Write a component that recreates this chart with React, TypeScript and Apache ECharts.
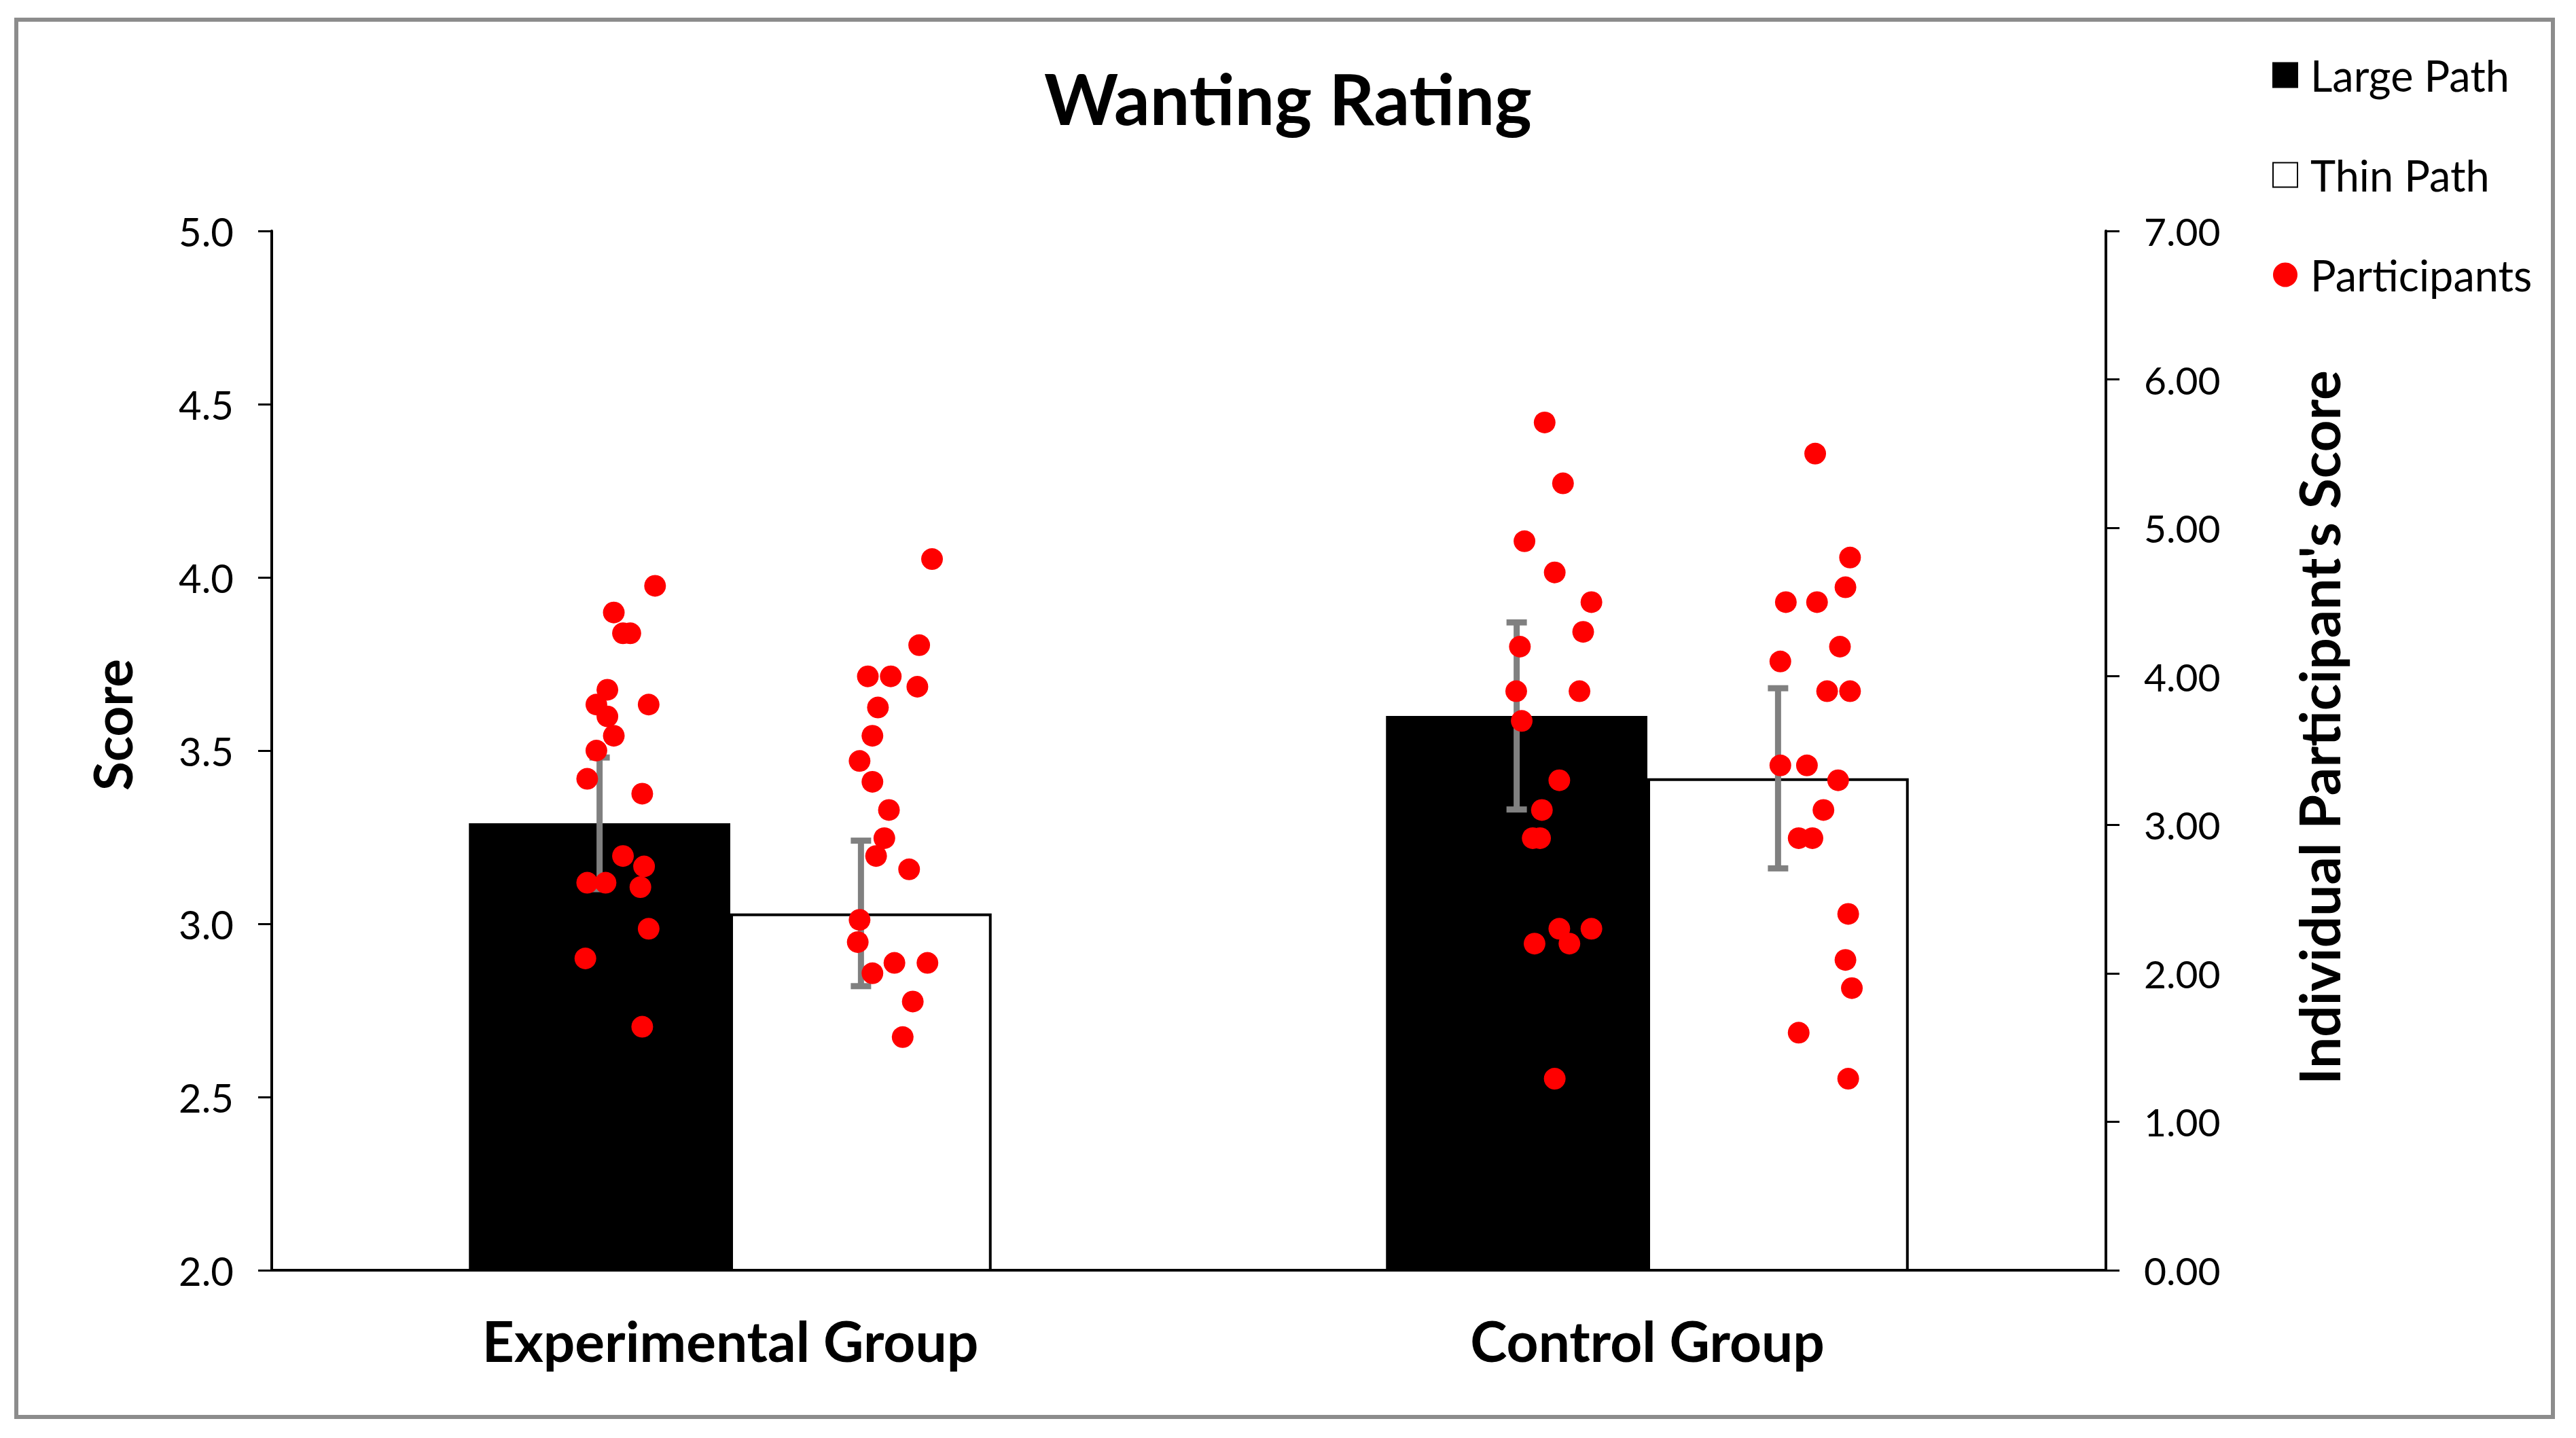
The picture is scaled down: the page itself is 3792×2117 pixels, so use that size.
import React, { useEffect, useRef } from "react";
import * as echarts from "echarts";

const categories = ["Experimental Group", "Control Group"];
const largeMeans = [3.29, 3.6];
const thinMeans = [3.03, 3.42];
const largeErr = [0.19, 0.27];
const thinErr = [0.21, 0.26];
const leftTicks = { min: 2, max: 5, interval: 0.5 };
const rightTicks = { min: 0, max: 7, interval: 1 };

const expLargeScores = [4.61, 4.43, 4.29, 4.29, 3.91, 3.81, 3.81, 3.73, 3.6, 3.5, 3.31, 3.21, 2.79, 2.72, 2.61, 2.61, 2.58, 2.3, 2.1, 1.64];
const expLargeJitter = [-0.082, -0.127, -0.117, -0.109, -0.134, -0.146, -0.089, -0.134, -0.127, -0.146, -0.156, -0.096, -0.117, -0.094, -0.156, -0.136, -0.098, -0.089, -0.158, -0.096];
const expThinScores = [4.79, 4.21, 4.0, 4.0, 3.93, 3.79, 3.6, 3.43, 3.29, 3.1, 2.91, 2.79, 2.7, 2.36, 2.21, 2.07, 2.07, 2.0, 1.81, 1.57];
const expThinJitter = [0.22, 0.206, 0.15, 0.175, 0.204, 0.161, 0.155, 0.141, 0.155, 0.173, 0.168, 0.159, 0.195, 0.141, 0.139, 0.179, 0.215, 0.155, 0.199, 0.188];
const ctlLargeScores = [5.71, 5.3, 4.91, 4.7, 4.5, 4.3, 4.2, 3.9, 3.9, 3.7, 3.3, 3.1, 2.91, 2.91, 2.3, 2.3, 2.2, 2.2, 1.29];
const ctlLargeJitter = [-0.112, -0.092, -0.134, -0.101, -0.061, -0.07, -0.139, -0.143, -0.074, -0.137, -0.096, -0.115, -0.125, -0.117, -0.096, -0.061, -0.123, -0.085, -0.101];
const ctlThinScores = [5.5, 4.8, 4.6, 4.5, 4.5, 4.2, 4.1, 3.9, 3.9, 3.4, 3.4, 3.3, 3.1, 2.91, 2.91, 2.4, 2.09, 1.9, 1.6, 1.29];
const ctlThinJitter = [0.183, 0.221, 0.216, 0.151, 0.185, 0.21, 0.145, 0.196, 0.221, 0.145, 0.174, 0.208, 0.192, 0.165, 0.18, 0.219, 0.216, 0.223, 0.165, 0.219];

const FONT = "Lato, 'Open Sans', sans-serif";

function buildPoints(catIndex: number, scores: number[], jitter: number[]) {
  return scores.map((s, i) => [catIndex + jitter[i], s]);
}

export default function App() {
  const ref = useRef<HTMLDivElement>(null);
  useEffect(() => {
    document.body.style.margin = "0";
    if (!ref.current) return;
    const chart = echarts.init(ref.current, null, { renderer: "svg" });

    const participants = [
      ...buildPoints(0, expLargeScores, expLargeJitter),
      ...buildPoints(0, expThinScores, expThinJitter),
      ...buildPoints(1, ctlLargeScores, ctlLargeJitter),
      ...buildPoints(1, ctlThinScores, ctlThinJitter),
    ];

    const errData: number[][] = [];
    categories.forEach((_, i) => {
      errData.push([i, largeMeans[i], largeMeans[i] - largeErr[i], largeMeans[i] + largeErr[i], 0]);
      errData.push([i, thinMeans[i], thinMeans[i] - thinErr[i], thinMeans[i] + thinErr[i], 1]);
    });

    const option: any = {
      animation: false,
      backgroundColor: "#ffffff",
      title: {
        text: "Wanting Rating",
        left: "center",
        top: 86,
        textStyle: { fontFamily: FONT, fontWeight: "bold", fontSize: 104, color: "#000" },
      },
      legend: {
        orient: "vertical",
        left: 3340,
        top: 74,
        itemWidth: 36,
        itemHeight: 36,
        itemGap: 84,
        textStyle: { fontFamily: FONT, fontSize: 63, color: "#000", lineHeight: 36, padding: [0, 0, 0, 14] },
        data: [
          { name: "Large Path", icon: "rect" },
          { name: "Thin Path", icon: "rect" },
          { name: "Participants", icon: "circle" },
        ],
      },
      graphic: [
        {
          type: "rect",
          shape: { x: 24, y: 29, width: 3734, height: 2057 },
          style: { fill: "none", stroke: "#8c8c8c", lineWidth: 6 },
          silent: true,
        },
      ],
      grid: { left: 400, right: 692, top: 340, bottom: 247 },
      xAxis: [
        {
          type: "category",
          data: categories,
          axisLine: { onZero: false, lineStyle: { color: "#000", width: 4 } },
          axisTick: { show: false },
          axisLabel: { fontFamily: FONT, fontWeight: "bold", fontSize: 82, color: "#000", margin: 62 },
        },
        { type: "value", min: -0.5, max: 1.5, show: false, axisLine: { onZero: false } },
      ],
      yAxis: [
        {
          type: "value",
          position: "left",
          min: leftTicks.min,
          max: leftTicks.max,
          interval: leftTicks.interval,
          name: "Score",
          nameLocation: "middle",
          nameGap: 196,
          nameRotate: 90,
          nameTextStyle: { fontFamily: FONT, fontWeight: "bold", fontSize: 78, color: "#000", padding: [0, 0, 0, 76] },
          axisLine: { show: true, onZero: false, lineStyle: { color: "#000", width: 4 } },
          axisTick: { show: true, length: 20, lineStyle: { color: "#000", width: 3 } },
          splitLine: { show: false },
          axisLabel: { fontFamily: FONT, fontSize: 58, color: "#000", margin: 56, formatter: (v: number) => v.toFixed(1) },
        },
        {
          type: "value",
          position: "right",
          min: rightTicks.min,
          max: rightTicks.max,
          interval: rightTicks.interval,
          name: "Individual Participant's Score",
          nameLocation: "middle",
          nameGap: 272,
          nameRotate: 90,
          nameTextStyle: { fontFamily: FONT, fontWeight: "bold", fontSize: 82, color: "#000", padding: [0, 0, 0, 68] },
          axisLine: { show: true, onZero: false, lineStyle: { color: "#000", width: 4 } },
          axisTick: { show: true, length: 20, lineStyle: { color: "#000", width: 3 } },
          splitLine: { show: false },
          axisLabel: { fontFamily: FONT, fontSize: 57, color: "#000", margin: 56, formatter: (v: number) => v.toFixed(2) },
        },
      ],
      series: [
        {
          name: "Large Path",
          type: "bar",
          xAxisIndex: 0,
          yAxisIndex: 0,
          data: largeMeans,
          barGap: "0%",
          barCategoryGap: "43%",
          itemStyle: { color: "#000", borderColor: "#000", borderWidth: 2 },
          z: 2,
        },
        {
          name: "Thin Path",
          type: "bar",
          xAxisIndex: 0,
          yAxisIndex: 0,
          data: thinMeans,
          itemStyle: { color: "#fff", borderColor: "#000", borderWidth: 4 },
          z: 2,
        },
        {
          name: "SEM",
          type: "custom",
          xAxisIndex: 0,
          yAxisIndex: 0,
          z: 3,
          silent: true,
          data: errData,
          renderItem: (params: any, api: any) => {
            const cat = api.value(0);
            const which = api.value(4);
            const band = api.size([1, 0])[0];
            const off = (which === 0 ? -1 : 1) * band * 0.57 / 4;
            const c = api.coord([cat, api.value(1)]);
            const x = c[0] + off;
            const yLo = api.coord([cat, api.value(2)])[1];
            const yHi = api.coord([cat, api.value(3)])[1];
            const st = { stroke: "#808080", lineWidth: 9 };
            const cap = 15;
            return {
              type: "group",
              children: [
                { type: "line", shape: { x1: x, y1: yHi, x2: x, y2: yLo }, style: st },
                { type: "line", shape: { x1: x - cap, y1: yHi, x2: x + cap, y2: yHi }, style: st },
                { type: "line", shape: { x1: x - cap, y1: yLo, x2: x + cap, y2: yLo }, style: st },
              ],
            };
          },
        },
        {
          name: "Participants",
          type: "scatter",
          xAxisIndex: 1,
          yAxisIndex: 1,
          data: participants,
          symbol: "circle",
          symbolSize: 32,
          itemStyle: { color: "#ff0000", opacity: 1 },
          z: 5,
        },
      ],
    };
    chart.setOption(option);
    return () => chart.dispose();
  }, []);
  return <div ref={ref} style={{ width: 3792, height: 2117 }} />;
}
